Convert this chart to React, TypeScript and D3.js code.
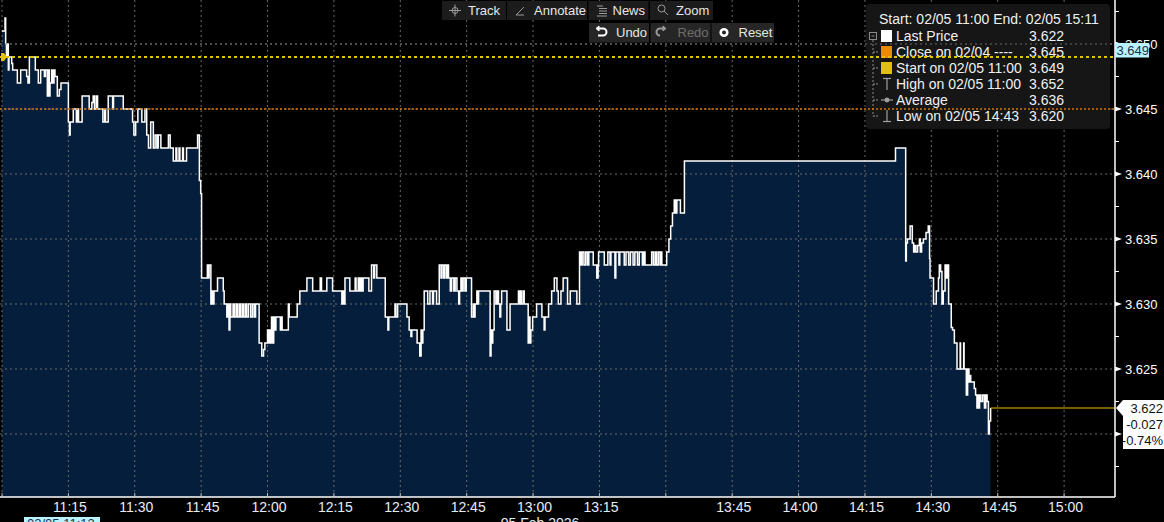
import React from 'react';
import * as d3 from 'd3';

type Tick = [number, number]; // [minutes after 11:00, price]

const ticks1100: Tick[] = [
  [0, 3.651], [0.68, 3.652], [0.83, 3.65], [1.0, 3.649], [1.2, 3.65], [1.43, 3.648], [1.58, 3.649],
  [2.2, 3.6485], [2.41, 3.648], [3.47, 3.647], [4.22, 3.648], [5.57, 3.6475], [5.87, 3.647], [6.18, 3.649],
  [7.53, 3.648], [8.21, 3.647], [8.74, 3.648], [9.57, 3.6475], [9.8, 3.648], [10.24, 3.646], [10.4, 3.648],
  [10.7, 3.646], [10.85, 3.647], [11.22, 3.648], [11.45, 3.647], [11.75, 3.648], [11.97, 3.6475], [12.5, 3.646],
  [12.95, 3.6465], [13.33, 3.647], [15.0, 3.644], [15.25, 3.643], [15.4, 3.644], [16.1, 3.645], [16.8, 3.644],
  [17.0, 3.645], [17.3, 3.644], [18.1, 3.646], [19.7, 3.645], [20.3, 3.6455], [20.6, 3.646], [20.9, 3.645],
  [21.3, 3.646], [21.6, 3.645], [22.8, 3.644], [23.2, 3.645], [23.4, 3.644], [24.0, 3.646], [25.0, 3.645],
  [25.2, 3.646], [27.4, 3.645], [29.5, 3.644], [29.8, 3.643], [30.2, 3.644], [30.7, 3.645], [31.6, 3.644],
  [32.3, 3.645], [32.7, 3.643], [33.1, 3.642], [33.6, 3.644], [34.2, 3.642], [34.6, 3.643], [35.0, 3.642],
  [35.3, 3.643], [35.9, 3.642], [37.6, 3.643], [38.0, 3.642], [38.7, 3.641], [39.3, 3.642], [39.5, 3.641],
  [40.0, 3.642], [40.2, 3.641], [40.8, 3.642], [41.0, 3.641], [41.7, 3.642], [44.2, 3.643], [44.6, 3.6395],
  [44.9, 3.6385], [45.1, 3.632],
];

const ticks1145: Tick[] = [
  [46.4, 3.633], [46.6, 3.632], [46.8, 3.633], [47.2, 3.63], [47.5, 3.631], [47.7, 3.63], [47.9, 3.631],
  [48.7, 3.632], [50.0, 3.631], [50.2, 3.63], [50.8, 3.629], [51.1, 3.63], [51.3, 3.628], [51.5, 3.63],
  [51.7, 3.629], [52.2, 3.63], [52.5, 3.629], [52.9, 3.63], [53.2, 3.629], [53.6, 3.63], [53.9, 3.629],
  [54.3, 3.63], [54.6, 3.629], [55.0, 3.63], [55.3, 3.629], [55.7, 3.63], [56.2, 3.629], [56.6, 3.63],
  [57.0, 3.629], [57.3, 3.63], [58.1, 3.627], [58.7, 3.626], [59.1, 3.6265], [59.4, 3.627], [60.0, 3.628],
  [60.2, 3.627], [60.5, 3.628], [60.7, 3.627], [60.9, 3.629], [61.2, 3.627], [61.4, 3.629], [61.7, 3.628],
  [61.9, 3.629], [62.9, 3.628], [63.1, 3.629], [63.3, 3.628], [64.7, 3.63], [64.9, 3.629], [66.7, 3.63],
  [67.3, 3.631], [68.9, 3.632], [70.2, 3.631], [71.9, 3.632], [72.2, 3.631], [73.4, 3.632], [74.7, 3.631],
];

const ticks1215: Tick[] = [
  [76.8, 3.63], [77.1, 3.631], [77.3, 3.63], [77.5, 3.632], [78.6, 3.631], [79.8, 3.632], [80.0, 3.631],
  [80.5, 3.632], [80.7, 3.631], [81.0, 3.632], [81.3, 3.631], [81.6, 3.632], [82.9, 3.631], [83.5, 3.633],
  [84.0, 3.632], [84.2, 3.633], [84.7, 3.632], [86.6, 3.629], [87.2, 3.628], [87.4, 3.629], [88.8, 3.63],
  [89.0, 3.629], [89.4, 3.63], [91.5, 3.629], [92.0, 3.628], [92.4, 3.6275], [92.6, 3.628], [93.8, 3.627],
  [94.4, 3.626], [94.7, 3.628], [94.9, 3.627], [95.1, 3.628], [95.4, 3.631], [96.2, 3.63], [96.7, 3.631],
  [97.3, 3.63], [97.5, 3.631], [98.2, 3.63], [98.8, 3.633], [99.2, 3.632], [99.4, 3.633], [99.8, 3.632],
  [100.0, 3.633], [100.4, 3.632], [100.6, 3.633], [100.9, 3.632], [101.3, 3.631], [101.6, 3.632],
  [102.1, 3.631], [102.4, 3.632], [102.8, 3.631], [103.2, 3.63], [103.4, 3.631], [103.7, 3.632],
  [103.9, 3.631], [104.2, 3.632], [104.6, 3.631], [104.9, 3.632],
];

const ticks1245: Tick[] = [
  [106.1, 3.629], [106.5, 3.63], [106.7, 3.629], [106.9, 3.63], [107.3, 3.631], [107.5, 3.63], [107.7, 3.631],
  [110.3, 3.626], [110.5, 3.628], [110.7, 3.627], [110.9, 3.628], [111.2, 3.631], [111.6, 3.63], [111.9, 3.631],
  [112.2, 3.63], [112.5, 3.629], [112.7, 3.63], [112.9, 3.631], [114.1, 3.628], [114.8, 3.63], [116.7, 3.631],
  [117.0, 3.63], [117.2, 3.631], [117.4, 3.63], [117.8, 3.631], [118.0, 3.63], [118.9, 3.627], [119.1, 3.629],
  [119.3, 3.627], [119.5, 3.628], [119.9, 3.629], [120.8, 3.63], [122.0, 3.629], [122.5, 3.628], [122.7, 3.629],
  [123.5, 3.63], [124.2, 3.631], [124.8, 3.632], [125.4, 3.631], [125.7, 3.63], [126.3, 3.631], [126.8, 3.632],
  [127.8, 3.63], [128.4, 3.631], [129.9, 3.63], [130.5, 3.634], [130.8, 3.633], [131.1, 3.634], [131.5, 3.633],
  [131.9, 3.634], [132.3, 3.633], [132.6, 3.634], [133.6, 3.633], [134.4, 3.632], [134.7, 3.633],
];

const ticks1315: Tick[] = [
  [134.8, 3.634], [136.1, 3.633], [136.9, 3.634], [137.4, 3.633], [137.6, 3.634], [138.5, 3.632], [138.7, 3.634],
  [139.4, 3.633], [139.6, 3.634], [140.6, 3.633], [141.0, 3.634], [141.6, 3.633], [142.0, 3.634], [142.6, 3.633],
  [143.0, 3.634], [143.6, 3.633], [144.0, 3.634], [144.7, 3.633], [145.0, 3.634], [145.3, 3.633], [146.8, 3.634],
  [147.2, 3.633], [147.6, 3.634], [147.9, 3.633], [148.3, 3.634], [148.7, 3.633], [149.0, 3.634], [149.1, 3.633],
  [150.2, 3.634], [150.7, 3.635], [151.1, 3.636], [151.5, 3.637], [151.9, 3.638], [152.2, 3.637], [152.5, 3.638],
  [153.3, 3.637], [154.2, 3.641],
];

const ticks1400: Tick[] = [
  [201.9, 3.642], [204.2, 3.6333], [204.35, 3.6347], [204.6, 3.635], [205.2, 3.636], [205.7, 3.6347],
  [206.0, 3.634], [206.3, 3.6345], [206.5, 3.634], [206.9, 3.6345], [207.3, 3.635], [207.5, 3.634],
  [207.8, 3.6347], [208.2, 3.635], [208.8, 3.6355], [209.3, 3.636], [209.6, 3.6335], [209.7, 3.632],
  [210.5, 3.63], [211.1, 3.631], [211.6, 3.632], [211.8, 3.633], [212.1, 3.6325], [212.4, 3.63], [212.7, 3.631],
  [213.1, 3.633], [213.4, 3.632], [213.6, 3.633], [213.9, 3.63],
];

const ticks1430: Tick[] = [
  [214.5, 3.6282], [214.8, 3.628], [215.2, 3.627], [215.8, 3.625], [216.5, 3.627], [216.6, 3.625],
  [217.3, 3.627], [217.4, 3.625], [217.9, 3.623], [218.2, 3.625], [218.5, 3.624], [218.7, 3.6245],
  [218.9, 3.624], [219.7, 3.6235], [220.0, 3.623], [220.3, 3.622], [220.5, 3.623], [220.7, 3.622],
  [220.9, 3.623], [221.2, 3.6225], [221.6, 3.623], [222.0, 3.622], [222.3, 3.623], [222.6, 3.6225],
  [222.9, 3.62], [223.1, 3.621], [223.4, 3.622],
];

const yTicks = [3.62, 3.625, 3.63, 3.635, 3.64, 3.645, 3.65];
const hiddenYLabels = [3.62];
const hiddenXLabels = ['11:00', '13:30'];
const lastPrice = 3.622;
const prevClose = 3.645;
const startPrice = 3.649;
const netChange = '-0.027';
const pctChange = '-0.74%';
const legendTitle = 'Start: 02/05 11:00 End: 02/05 15:11';
const legendLabels = ['Last Price', 'Close on 02/04 ----', 'Start on 02/05 11:00', 'High on 02/05 11:00', 'Average', 'Low on 02/05 14:43'];
const legendValues = ['3.622', '3.645', '3.649', '3.652', '3.636', '3.620'];
const toolbarRow1 = ['Track', 'Annotate', 'News', 'Zoom'];
const toolbarRow2 = ['Undo', 'Redo', 'Reset'];
const crosshairLabel = '02/05 11:13';
const dateLabel = '05 Feb 2026';

const FONT = '"Liberation Sans", Arial, sans-serif';
const W_ = 1164;
const H_ = 522;

export default function App() {
  const series: Tick[] = [
    ...ticks1100, ...ticks1145, ...ticks1215, ...ticks1245, ...ticks1315, ...ticks1400, ...ticks1430,
  ];
  const base = new Date(2026, 1, 5, 11, 0, 0);
  const end = new Date(2026, 1, 5, 15, 11, 30);
  const toDate = (t: number) => new Date(base.getTime() + t * 60000);
  const x = d3.scaleTime().domain([base, end]).range([2, 1115]);
  const y = d3.scaleLinear().domain([3.62, 3.65]).range([434, 44]);
  const bottom = 497;
  const axisX = 1115;

  const area = d3.area<Tick>().curve(d3.curveStepAfter)
    .x((d) => x(toDate(d[0]))).y0(bottom).y1((d) => y(d[1]));
  const line = d3.line<Tick>().curve(d3.curveStepAfter)
    .x((d) => x(toDate(d[0]))).y((d) => y(d[1]));

  const xTicks = x.ticks(d3.timeMinute.every(15) as any);
  const fmt = d3.timeFormat('%H:%M');
  const minorY = d3.range(3.6175, 3.654, 0.005);
  const lastT = series[series.length - 1][0];
  const lastX = x(toDate(lastT));
  const lastY = y(lastPrice);

  const gridColor = '#6a6a6a';

  const row1X = [442, 507, 588.5, 650];
  const row1W = [64, 80, 60, 63];
  const row1T = [26, 27, 24, 26];
  const row2X = [589, 650.5, 711.5];
  const row2W = [60, 60, 62.5];

  return (
    <svg width={W_} height={H_} style={{ position: 'fixed', left: 0, top: 0, background: '#000' }}
      fontFamily={FONT}>
      <rect x={0} y={0} width={W_} height={H_} fill="#000" />
      <path d={area(series) || ''} fill="#051e3b" />
      {xTicks.map((d, i) => (
        <line key={'gx' + i} x1={x(d)} x2={x(d)} y1={0} y2={bottom} stroke={gridColor}
          strokeDasharray="2,3" strokeWidth={1} />
      ))}
      {yTicks.map((v, i) => (
        <line key={'gy' + i} x1={0} x2={axisX} y1={y(v)} y2={y(v)} stroke={gridColor}
          strokeDasharray="2,3" strokeWidth={1} />
      ))}
      <path d={line(series) || ''} fill="none" stroke="#fff" strokeWidth={1.5} />

      {toolbarRow1.map((lab, i) => (
        <g key={'tb1' + i}>
          <rect x={row1X[i]} y={1} width={row1W[i]} height={19} fill="#1c1c1c" />
          <text x={row1X[i] + row1T[i]} y={15} fontSize={13} fill="#e6e6e6">{lab}</text>
        </g>
      ))}
      <g stroke="#9a9a9a" strokeWidth={1} fill="none">
        <circle cx={455} cy={10.5} r={3} />
        <line x1={449} x2={461} y1={10.5} y2={10.5} />
        <line x1={455} x2={455} y1={4.5} y2={16.5} />
        <path d="M516,15 L524,7 M516,15 L524,15" />
        <path d="M597,6 L603,6 M599,8.5 L607,8.5 M599,11 L607,11 M599,13.5 L607,13.5 M597,16 L607,16" />
        <circle cx={661.5} cy={8.5} r={3.5} />
        <line x1={664} x2={668} y1={11} y2={15} />
      </g>
      {toolbarRow2.map((lab, i) => (
        <g key={'tb2' + i}>
          <rect x={row2X[i]} y={23} width={row2W[i]} height={19.5} fill="#262626" />
          <text x={row2X[i] + 27} y={37} fontSize={13} fill={lab === 'Redo' ? '#6e6e6e' : '#e6e6e6'}>{lab}</text>
        </g>
      ))}
      <g fill="none" strokeWidth={2}>
        <path d="M598,28.5 L603,28.5 A3.5,3.5 0 0 1 603,35.5 L598,35.5" stroke="#fff" />
        <path d="M596,28.5 L599,26 L599,31 Z" fill="#fff" stroke="#fff" strokeWidth={1} />
        <path d="M664,28.5 L660,28.5 A3.5,3.5 0 0 0 660,35.5" stroke="#9a9a9a" />
        <path d="M666,28.5 L663,26 L663,31 Z" fill="#9a9a9a" stroke="#9a9a9a" strokeWidth={1} />
        <circle cx={724} cy={32.5} r={3.3} stroke="#fff" strokeWidth={2.6} />
      </g>

      <rect x={866} y={4} width={244} height={125} rx={4} fill="#161616" />
      <text x={879} y={24} fontSize={14} fill="#f0f0f0">{legendTitle}</text>
      <g stroke="#8a8a8a" strokeWidth={1} fill="none">
        <rect x={869.5} y={32.5} width={7} height={7} />
        <line x1={871.5} x2={874.5} y1={36} y2={36} />
        <line x1={873} x2={873} y1={40} y2={116.5} strokeDasharray="2,2" />
        {legendLabels.map((_, i) => i > 0 ? (
          <line key={'tl' + i} x1={873} x2={878} y1={36 + i * 16} y2={36 + i * 16} strokeDasharray="2,1" />
        ) : null)}
      </g>
      <rect x={881} y={30} width={11} height={12} fill="#ffffff" />
      <rect x={881} y={46} width={11} height={12} fill="#e98a0c" />
      <rect x={881} y={62} width={11} height={12} fill="#e2c012" />
      <g stroke="#a0a0a0" strokeWidth={1.2} fill="none">
        <line x1={883} x2={891} y1={78.5} y2={78.5} />
        <line x1={887} x2={887} y1={78.5} y2={90} />
        <line x1={881} x2={893} y1={100} y2={100} />
        <circle cx={887} cy={100} r={1.8} fill="#a0a0a0" />
        <line x1={887} x2={887} y1={110} y2={121.5} />
        <line x1={883} x2={891} y1={121.5} y2={121.5} />
      </g>
      {legendLabels.map((lab, i) => (
        <g key={'lg' + i}>
          <text x={896} y={41 + i * 16} fontSize={14} fill="#f0f0f0">{lab}</text>
          <text x={1029} y={41 + i * 16} fontSize={14} fill="#f0f0f0">{legendValues[i]}</text>
        </g>
      ))}

      <line x1={0} x2={axisX} y1={y(3.65)} y2={y(3.65)} stroke={gridColor} strokeDasharray="2,3" />
      <line x1={0} x2={axisX} y1={y(startPrice)} y2={y(startPrice)} stroke="#e3c20e" strokeWidth={2}
        strokeDasharray="3,3" />
      <line x1={0} x2={axisX} y1={y(prevClose)} y2={y(prevClose)} stroke="#c9781c" strokeWidth={1.5}
        strokeDasharray="2,2" />
      <path d={`M1,${y(startPrice) - 4} L4,${y(startPrice) - 4} L7,${y(startPrice)} L4,${y(startPrice) + 4} L1,${y(startPrice) + 4} Z`}
        fill="#e3c20e" />
      <line x1={lastX} x2={axisX} y1={lastY} y2={lastY} stroke="#f2b705" strokeWidth={1.2} />

      <line x1={axisX} x2={axisX} y1={0} y2={bottom} stroke="#fff" strokeWidth={1.5} />
      <line x1={0} x2={axisX} y1={bottom} y2={bottom} stroke="#fff" strokeWidth={1.5} />
      {minorY.map((v, i) => (
        <line key={'my' + i} x1={axisX} x2={axisX + 4} y1={y(v)} y2={y(v)} stroke="#fff" strokeWidth={1} />
      ))}
      {yTicks.map((v, i) => (
        <g key={'yl' + i}>
          <path d={`M${axisX},${y(v) - 2.5} L${axisX + 7},${y(v)} L${axisX},${y(v) + 2.5} Z`} fill="#fff" />
          {hiddenYLabels.includes(v) ? null : (
            <text x={1125} y={y(v) + 4.5} fontSize={13} fill="#fff">{d3.format('.3f')(v)}</text>
          )}
        </g>
      ))}
      {xTicks.map((d, i) => (
        <g key={'xl' + i}>
          <line x1={x(d)} x2={x(d)} y1={bottom - 4} y2={bottom} stroke="#bbb" strokeWidth={1} />
          {hiddenXLabels.includes(fmt(d)) ? null : (
            <text x={x(d) + 1.5} y={512} fontSize={14} fill="#e8ecf8" textAnchor="middle">{fmt(d)}</text>
          )}
        </g>
      ))}

      <rect x={axisX} y={43} width={34} height={14.5} fill="#b9f3ff" />
      <text x={axisX + 1.5} y={55} fontSize={13} fill="#1e3050">{d3.format('.3f')(startPrice)}</text>

      <path d={`M${axisX + 1},${lastY} L${axisX + 8},${lastY - 8} L1164,${lastY - 8} L1164,449 L${axisX + 8},449 L${axisX + 8},${lastY + 8} Z`}
        fill="#fff" />
      <text x={1163} y={lastY + 5} fontSize={13} fill="#111" textAnchor="end">{d3.format('.3f')(lastPrice)}</text>
      <text x={1163} y={lastY + 21} fontSize={13} fill="#111" textAnchor="end">{netChange}</text>
      <text x={1163} y={lastY + 37} fontSize={13} fill="#111" textAnchor="end">{pctChange}</text>

      <rect x={24} y={517} width={76} height={12} fill="#b9f3ff" />
      <text x={27} y={528} fontSize={13} fill="#1e3050">{crosshairLabel}</text>
      <text x={540} y={528} fontSize={14} fill="#e8ecf8" textAnchor="middle">{dateLabel}</text>
    </svg>
  );
}
